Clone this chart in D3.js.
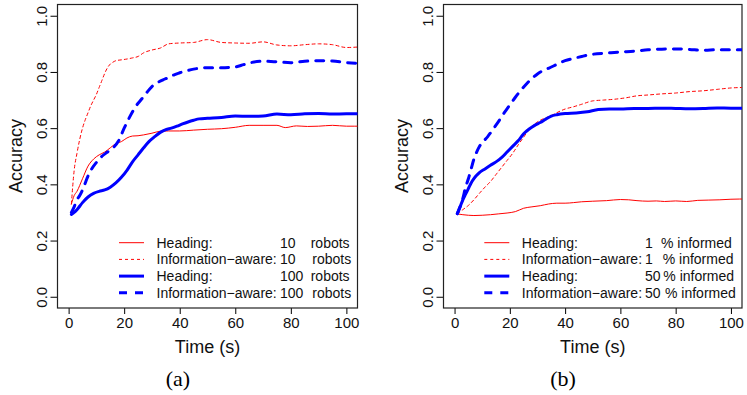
<!DOCTYPE html>
<html>
<head>
<meta charset="utf-8">
<script src="https://cdn.jsdelivr.net/npm/d3@7"></script>
<style>
  body { margin: 0; background: #fff; }
  svg { display: block; font-family: "Liberation Sans", Arial, sans-serif; }
</style>
</head>
<body>
<div id="chart"></div>
<script>
const width = 747, height = 395

// panel (a): accuracy vs time for 10 / 100 robots  [time, accuracy]
const headA10 = [[1,0.33],[2,0.36],[3,0.375],[5,0.42],[7,0.465],[9,0.49],[11,0.505],[13,0.515],[15,0.53],[17,0.545],[19,0.552],[21,0.565],[23,0.572],[25,0.573],[27,0.576],[30,0.582],[33,0.589],[36,0.59],[40,0.59],[45,0.593],[50,0.596],[55,0.598],[60,0.603],[65,0.61],[70,0.61],[75,0.61],[78,0.602],[82,0.608],[86,0.606],[90,0.607],[95,0.61],[100,0.607],[106,0.607]]
const infoA10 = [[1,0.33],[2,0.45],[3,0.51],[4,0.56],[5,0.6],[6,0.63],[7,0.655],[8,0.68],[9,0.7],[10,0.72],[11,0.745],[12,0.77],[13,0.795],[14,0.815],[15,0.828],[16,0.835],[17,0.84],[19,0.843],[21,0.846],[23,0.85],[25,0.855],[27,0.868],[30,0.878],[33,0.885],[36,0.9],[40,0.903],[45,0.905],[50,0.915],[55,0.905],[60,0.903],[65,0.902],[70,0.907],[75,0.896],[80,0.893],[85,0.897],[90,0.9],[95,0.897],[100,0.887],[106,0.89]]
const headA100 = [[1,0.293],[2,0.3],[3,0.31],[5,0.335],[7,0.355],[9,0.368],[11,0.375],[13,0.38],[15,0.39],[17,0.405],[19,0.425],[21,0.45],[23,0.48],[25,0.505],[27,0.53],[29,0.553],[31,0.57],[33,0.585],[35,0.595],[37,0.6],[39,0.607],[41,0.615],[43,0.622],[45,0.628],[47,0.633],[50,0.635],[55,0.638],[60,0.643],[65,0.642],[70,0.643],[75,0.65],[80,0.648],[85,0.651],[90,0.652],[95,0.65],[100,0.651],[106,0.651]]
const infoA100 = [[1,0.3],[2,0.32],[3,0.345],[4,0.36],[5,0.38],[6,0.405],[7,0.43],[8,0.45],[10,0.478],[12,0.5],[14,0.515],[16,0.53],[18,0.555],[20,0.6],[22,0.64],[24,0.675],[26,0.7],[28,0.725],[30,0.748],[32,0.762],[34,0.772],[36,0.78],[38,0.79],[40,0.797],[42,0.803],[45,0.81],[50,0.815],[55,0.815],[60,0.818],[63,0.826],[66,0.834],[70,0.838],[75,0.836],[80,0.833],[85,0.838],[90,0.84],[95,0.839],[100,0.833],[106,0.83]]

// panel (b): accuracy vs time for 1 % / 50 % informed
const headB1 = [[1,0.295],[3,0.292],[5,0.29],[7,0.289],[10,0.29],[13,0.292],[16,0.295],[19,0.298],[22,0.303],[25,0.315],[28,0.32],[31,0.324],[34,0.33],[37,0.333],[40,0.333],[43,0.335],[46,0.338],[50,0.34],[55,0.342],[60,0.346],[63,0.345],[66,0.342],[70,0.34],[73,0.341],[76,0.339],[80,0.341],[84,0.339],[88,0.343],[92,0.344],[96,0.345],[100,0.347],[106,0.348]]
const infoB1 = [[1,0.296],[3,0.31],[5,0.325],[7,0.345],[9,0.368],[11,0.39],[13,0.41],[15,0.435],[17,0.46],[19,0.485],[21,0.51],[23,0.54],[25,0.568],[27,0.595],[29,0.615],[31,0.628],[33,0.637],[35,0.645],[37,0.655],[40,0.668],[43,0.676],[46,0.685],[50,0.697],[54,0.7],[58,0.703],[62,0.708],[66,0.715],[70,0.718],[75,0.722],[80,0.725],[85,0.73],[90,0.733],[95,0.738],[100,0.743],[106,0.745]]
const headB50 = [[1,0.296],[2,0.32],[3,0.345],[4,0.365],[5,0.385],[6,0.405],[7,0.42],[8,0.432],[9,0.442],[11,0.455],[13,0.468],[15,0.48],[17,0.495],[19,0.515],[21,0.535],[23,0.555],[25,0.58],[27,0.597],[29,0.61],[31,0.62],[33,0.632],[35,0.643],[37,0.648],[40,0.652],[44,0.654],[48,0.658],[52,0.666],[56,0.668],[60,0.668],[65,0.67],[70,0.67],[75,0.671],[80,0.67],[85,0.669],[90,0.67],[95,0.672],[100,0.671],[106,0.671]]
const infoB50 = [[1,0.296],[2,0.32],[3,0.35],[4,0.39],[5,0.42],[6,0.455],[7,0.49],[8,0.515],[9,0.535],[10,0.548],[12,0.57],[14,0.597],[16,0.625],[18,0.655],[20,0.683],[22,0.71],[24,0.735],[26,0.757],[28,0.777],[30,0.793],[32,0.805],[34,0.813],[36,0.822],[38,0.832],[40,0.84],[43,0.848],[46,0.855],[50,0.863],[55,0.867],[60,0.871],[65,0.874],[70,0.879],[75,0.881],[80,0.882],[85,0.88],[90,0.877],[95,0.879],[100,0.879],[106,0.879]]

const xTicks = [0, 20, 40, 60, 80, 100]
const yTicks = [0.0, 0.2, 0.4, 0.6, 0.8, 1.0]
const legendA = [["Heading:", "10", "robots"], ["Information\u2212aware:", "10", "robots"], ["Heading:", "100", "robots"], ["Information\u2212aware:", "100", "robots"]]
const legendB = [["Heading:", "1", "% informed"], ["Information\u2212aware:", "1", "% informed"], ["Heading:", "50", "% informed"], ["Information\u2212aware:", "50", "% informed"]]

// line styles shared by both panels
const styles = [
    { color: "#ff0000", width: 1, dash: null },
    { color: "#ff0000", width: 1, dash: "3,3" },
    { color: "#0000ff", width: 3, dash: null },
    { color: "#0000ff", width: 3, dash: "8,8" }
]

const svg = d3.select("#chart")
    .append("svg")
    .attr("width", width)
    .attr("height", height)

function drawPanel(p) {
    const x = d3.scaleLinear().domain([-4, 104]).range([p.left, p.right])
    const y = d3.scaleLinear().domain([-0.04, 1.04]).range([308, 4.5])
    const g = svg.append("g")

    g.append("clipPath").attr("id", "clip-" + p.id)
        .append("rect")
        .attr("x", p.left).attr("y", 4.5)
        .attr("width", p.right - p.left).attr("height", 308 - 4.5)

    // x axis
    const xaxis = d3.axisBottom(x).tickValues(xTicks).tickSize(6).tickPadding(3).tickFormat(d3.format("d"))
    const xa = g.append("g")
        .attr("transform", `translate(0,308)`)
        .call(xaxis)
    xa.select(".domain").remove()
    xa.selectAll("text").attr("font-size", 15).attr("fill", "#111").attr("font-family", "Liberation Sans, Arial, sans-serif")
    xa.selectAll("line").attr("stroke", "#000")

    // y axis, labels rotated like R's default
    const yaxis = d3.axisLeft(y).tickValues(yTicks).tickSize(7).tickFormat(d3.format(".1f"))
    const ya = g.append("g")
        .attr("transform", `translate(${p.left},0)`)
        .call(yaxis)
    ya.select(".domain").remove()
    ya.selectAll("line").attr("stroke", "#000")
    ya.selectAll("text")
        .attr("x", null).attr("dy", null)
        .attr("font-size", 15).attr("fill", "#111")
        .attr("font-family", "Liberation Sans, Arial, sans-serif")
        .attr("text-anchor", "middle")
        .attr("transform", "translate(-11,0) rotate(-90)")

    // box
    g.append("rect")
        .attr("x", p.left).attr("y", 4.5)
        .attr("width", p.right - p.left).attr("height", 308 - 4.5)
        .attr("fill", "none").attr("stroke", "#222").attr("stroke-width", 1.2)

    const line = d3.line()
        .x(d => x(d[0]))
        .y(d => y(d[1]))
        .curve(d3.curveMonotoneX)

    p.series.forEach((s, i) => {
        g.append("path")
            .datum(s)
            .attr("clip-path", `url(#clip-${p.id})`)
            .attr("fill", "none")
            .attr("stroke", styles[i].color)
            .attr("stroke-width", styles[i].width)
            .attr("stroke-dasharray", styles[i].dash)
            .attr("stroke-linecap", "round")
            .attr("stroke-linejoin", "round")
            .attr("d", line)
    })

    // axis titles
    g.append("text")
        .attr("x", (p.left + p.right) / 2).attr("y", 353)
        .attr("text-anchor", "middle").attr("font-size", 18).attr("fill", "#111")
        .text("Time (s)")
    g.append("text")
        .attr("transform", `translate(${p.left - 36},156) rotate(-90)`)
        .attr("text-anchor", "middle").attr("font-size", 18).attr("fill", "#111")
        .text("Accuracy")

    // legend, no box
    const lg = g.append("g")
    p.legend.forEach((row, i) => {
        const ly = 242.7 + i * 16.7
        lg.append("line")
            .attr("x1", p.legX).attr("x2", p.legX + 25)
            .attr("y1", ly).attr("y2", ly)
            .attr("stroke", styles[i].color)
            .attr("stroke-width", styles[i].width)
            .attr("stroke-dasharray", styles[i].dash)
            .attr("stroke-linecap", "butt")
        const t = lg.append("text").attr("y", ly + 5).attr("font-size", 14).attr("fill", "#111")
        t.append("tspan").attr("x", p.legX + 37.5).text(row[0])
        t.append("tspan").attr("x", p.numX).text(row[1])
        t.append("tspan").attr("x", p.unitX[i]).text(row[2])
    })

    // sub-caption
    svg.append("text")
        .attr("x", p.capX).attr("y", 386)
        .attr("text-anchor", "middle")
        .attr("font-family", "Liberation Serif, serif")
        .attr("font-size", 22)
        .text(p.caption)
}

drawPanel({
    id: "a", left: 57.5, right: 357.5,
    series: [headA10, infoA10, headA100, infoA100],
    legend: legendA, legX: 119, numX: 280, unitX: [310.7, 312.3, 310.7, 312.3],
    caption: "(a)", capX: 178
})

drawPanel({
    id: "b", left: 443.5, right: 742,
    series: [headB1, infoB1, headB50, infoB50],
    legend: legendB, legX: 484.3, numX: 645, unitX: [661, 662.7, 663.3, 665],
    caption: "(b)", capX: 563
})
</script>
</body>
</html>
